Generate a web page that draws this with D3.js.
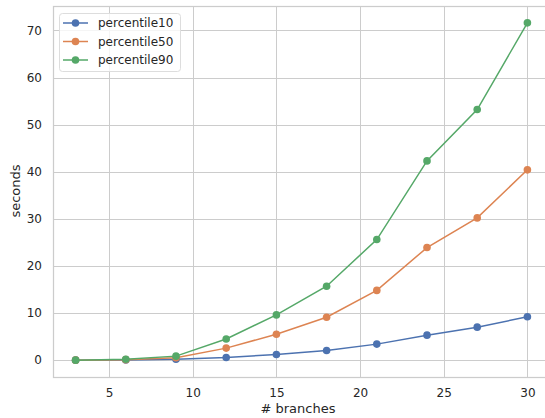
<!DOCTYPE html>
<html lang="en">
<head>
<meta charset="UTF-8">
<title>percentiles</title>
<script src="https://cdn.jsdelivr.net/npm/d3@7"></script>
<style>
body { margin: 0; background: #fff; }
text { font-family: 'DejaVu Sans', sans-serif; fill: #262626; }
</style>
</head>
<body>
<script>
// number of branches
const branches = [3, 6, 9, 12, 15, 18, 21, 24, 27, 30];
// seconds
const percentile10 = [0.0, 0.05, 0.2, 0.57, 1.2, 2.05, 3.4, 5.3, 7.0, 9.2];
const percentile50 = [0.0, 0.1, 0.5, 2.55, 5.5, 9.1, 14.8, 23.9, 30.2, 40.4];
const percentile90 = [0.0, 0.2, 0.85, 4.5, 9.6, 15.7, 25.6, 42.3, 53.2, 71.6];
const seriesNames = ['percentile10', 'percentile50', 'percentile90'];
const colors = ['#4c72b0', '#dd8452', '#55a868'];
const xTicks = [5, 10, 15, 20, 25, 30];
const yTicks = [0, 10, 20, 30, 40, 50, 60, 70];

const series = [percentile10, percentile50, percentile90].map((vals, i) => ({
    name: seriesNames[i],
    color: colors[i],
    points: branches.map((b, j) => ({ x: b, y: vals[j] }))
}));

const width = 545, height = 418;
const margin = { left: 53, top: 6, right: -5, bottom: 41 };

const svg = d3.select('body').append('svg')
    .attr('width', width)
    .attr('height', height);

// matplotlib style 5% padding around the data
const xPad = (30 - 3) * 0.05;
const yMax = d3.max(percentile90);
const yPad = yMax * 0.05;

const x = d3.scaleLinear()
    .domain([3 - xPad, 30 + xPad])
    .range([margin.left, width - margin.right]);
const y = d3.scaleLinear()
    .domain([0 - yPad, yMax + yPad])
    .range([height - margin.bottom, margin.top]);

// grid
const grid = svg.append('g').attr('stroke', '#cccccc').attr('stroke-width', 1);
grid.selectAll('.gx').data(xTicks).enter().append('line')
    .attr('x1', d => Math.round(x(d)) + 0.5).attr('x2', d => Math.round(x(d)) + 0.5)
    .attr('y1', y.range()[0]).attr('y2', y.range()[1]);
grid.selectAll('.gy').data(yTicks).enter().append('line')
    .attr('y1', d => Math.round(y(d)) + 0.5).attr('y2', d => Math.round(y(d)) + 0.5)
    .attr('x1', x.range()[0]).attr('x2', x.range()[1]);

// frame (spines)
svg.append('rect')
    .attr('x', x.range()[0] + 0.5).attr('y', y.range()[1] + 0.5)
    .attr('width', x.range()[1] - x.range()[0]).attr('height', y.range()[0] - y.range()[1])
    .attr('fill', 'none').attr('stroke', '#cccccc').attr('stroke-width', 1.25);

// axes, no tick marks
const xAxis = svg.append('g')
    .attr('transform', `translate(0,${y.range()[0]})`)
    .call(d3.axisBottom(x).tickValues(xTicks).tickSize(0).tickPadding(11));
const yAxis = svg.append('g')
    .attr('transform', `translate(${x.range()[0]},0)`)
    .call(d3.axisLeft(y).tickValues(yTicks).tickSize(0).tickPadding(11));
[xAxis, yAxis].forEach(a => {
    a.select('.domain').remove();
    a.selectAll('text').style('font-size', '12px').attr('fill', '#262626')
        .style('font-family', "'DejaVu Sans', sans-serif");
});

// axis labels
svg.append('text')
    .attr('x', 298).attr('y', 413)
    .attr('text-anchor', 'middle')
    .style('font-size', '13px')
    .text('# branches');
svg.append('text')
    .attr('transform', 'translate(19.5,191) rotate(-90)')
    .attr('text-anchor', 'middle')
    .style('font-size', '13px')
    .text('seconds');

// lines + markers
const line = d3.line().x(d => x(d.x)).y(d => y(d.y));
const sg = svg.selectAll('.series').data(series).enter().append('g');
sg.append('path')
    .attr('d', d => line(d.points))
    .attr('fill', 'none')
    .attr('stroke', d => d.color)
    .attr('stroke-width', 1.5);
sg.selectAll('circle').data(d => d.points.map(p => ({ p, c: d.color }))).enter().append('circle')
    .attr('cx', d => x(d.p.x)).attr('cy', d => y(d.p.y))
    .attr('r', 3.8)
    .attr('fill', d => d.c);

// legend
const legend = svg.append('g').attr('transform', 'translate(59,13)');
legend.append('rect')
    .attr('x', 0.5).attr('y', 0.5).attr('width', 121).attr('height', 58).attr('rx', 3)
    .attr('fill', 'rgba(255,255,255,0.8)').attr('stroke', '#dddddd');
const li = legend.selectAll('.li').data(series).enter().append('g')
    .attr('transform', (d, i) => `translate(0,${10 + i * 18.5})`);
li.append('line').attr('x1', 4).attr('x2', 29).attr('stroke', d => d.color).attr('stroke-width', 1.5);
li.append('circle').attr('cx', 16.5).attr('r', 3.8).attr('fill', d => d.color);
li.append('text').attr('x', 39).attr('dy', '0.35em').style('font-size', '12px').text(d => d.name);
</script>
</body>
</html>
